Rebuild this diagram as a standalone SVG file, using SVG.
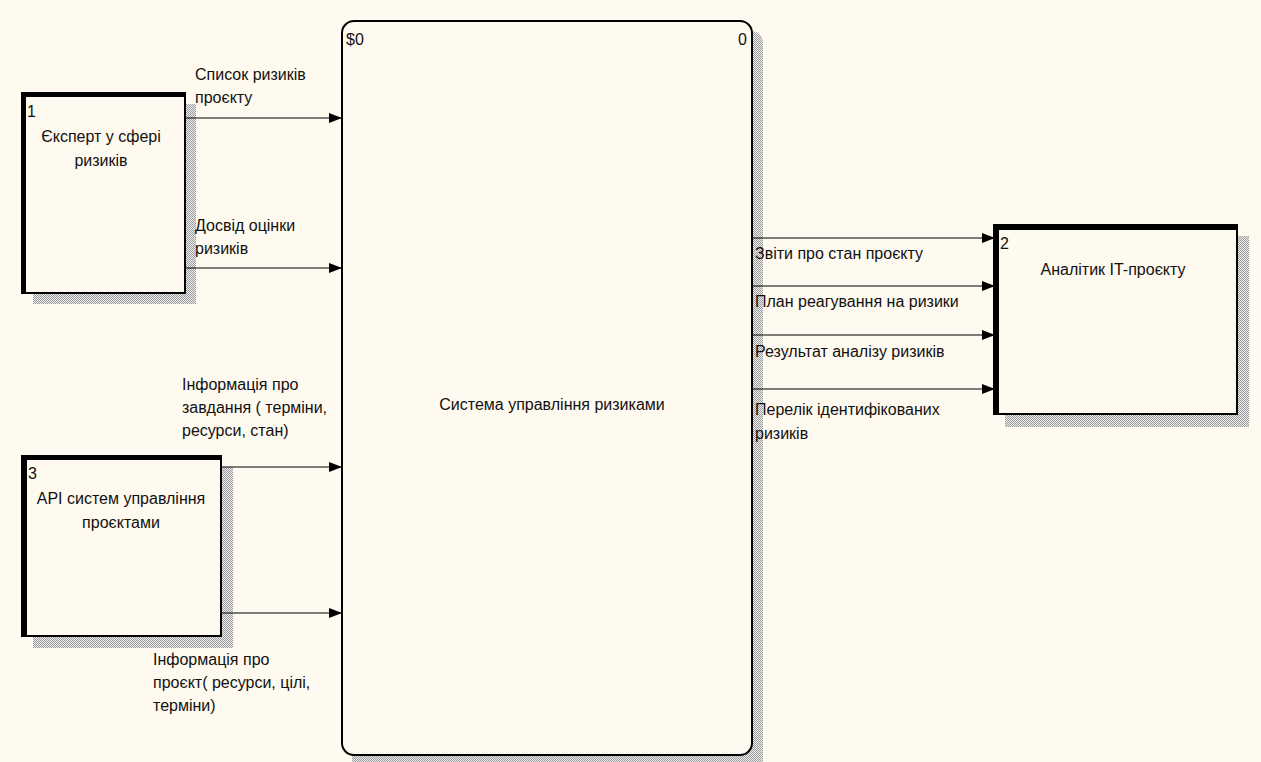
<svg xmlns="http://www.w3.org/2000/svg" width="1261" height="762" viewBox="0 0 1261 762">
<defs>
<pattern id="hatch" width="2" height="2" patternUnits="userSpaceOnUse">
<rect width="2" height="2" fill="#eeeeee"/>
<rect width="1" height="1" fill="#9a9a9a"/>
<rect x="1" y="1" width="1" height="1" fill="#9a9a9a"/>
</pattern>
<marker id="arr" markerWidth="14" markerHeight="10" refX="13" refY="5" orient="auto" markerUnits="userSpaceOnUse">
<path d="M0,0 L13,5 L0,10 Z" fill="#000"/>
</marker>
<style>
text{font-family:"Liberation Sans",Arial,sans-serif;font-size:16px;fill:#111}
.box{fill:#fffaef;stroke:#000;stroke-width:2}
.thick{fill:#000}
.shadow{fill:url(#hatch)}
.conn{stroke:#000;stroke-width:1.2;fill:none;marker-end:url(#arr)}
.c{text-anchor:middle}
</style>
</defs>
<rect width="1261" height="762" fill="#fffaef"/>

<g id="node0">
<rect class="shadow" x="352" y="31" width="411" height="740" rx="12"/>
<rect class="box" x="342" y="21" width="410" height="734" rx="12"/>
<text x="346" y="45">$0</text>
<text x="738" y="45">0</text>
<text class="c" x="552" y="410">Система управління ризиками</text>
</g>

<g id="node1">
<rect class="shadow" x="33" y="104" width="163" height="200"/>
<rect class="box" x="22" y="93" width="163" height="200"/>
<rect class="thick" x="21" y="92" width="5" height="202"/>
<rect class="thick" x="21" y="92" width="165" height="5"/>
<text x="27" y="117">1</text>
<text class="c" x="101" y="142">Єксперт у сфері</text>
<text class="c" x="101" y="166">ризиків</text>
</g>

<g id="node2">
<rect class="shadow" x="1005" y="236" width="244" height="191"/>
<rect class="box" x="994" y="225" width="243" height="189"/>
<rect class="thick" x="993" y="224" width="6" height="191"/>
<rect class="thick" x="993" y="224" width="245" height="6"/>
<text x="1000" y="249">2</text>
<text class="c" x="1113" y="275">Аналітик IT-проєкту</text>
</g>

<g id="node3">
<rect class="shadow" x="33" y="467" width="200" height="181"/>
<rect class="box" x="22" y="456" width="199" height="180"/>
<rect class="thick" x="21" y="455" width="6" height="182"/>
<rect class="thick" x="21" y="455" width="201" height="5"/>
<text x="28" y="479">3</text>
<text class="c" x="121" y="504">API систем управління</text>
<text class="c" x="121" y="528">проєктами</text>
</g>

<g id="connectors">
<line class="conn" x1="186" y1="118" x2="342" y2="118"/>
<line class="conn" x1="186" y1="268" x2="342" y2="268"/>
<line class="conn" x1="222" y1="467" x2="342" y2="467"/>
<line class="conn" x1="222" y1="613" x2="342" y2="613"/>
<line class="conn" x1="752" y1="238" x2="995" y2="238"/>
<line class="conn" x1="752" y1="286" x2="995" y2="286"/>
<line class="conn" x1="752" y1="335" x2="995" y2="335"/>
<line class="conn" x1="752" y1="389" x2="995" y2="389"/>
</g>

<g id="labels">
<text x="195" y="80">Список ризиків</text>
<text x="195" y="103">проєкту</text>
<text x="195" y="231">Досвід оцінки</text>
<text x="195" y="254">ризиків</text>
<text x="182" y="390">Інформація про</text>
<text x="182" y="413">завдання ( терміни,</text>
<text x="182" y="436">ресурси, стан)</text>
<text x="153" y="665">Інформація про</text>
<text x="153" y="688">проєкт( ресурси, цілі,</text>
<text x="153" y="711">терміни)</text>
<text x="755" y="259">Звіти про стан проєкту</text>
<text x="755" y="307">План реагування на ризики</text>
<text x="755" y="357">Результат аналізу ризиків</text>
<text x="755" y="415">Перелік ідентифікованих</text>
<text x="755" y="439">ризиків</text>
</g>
</svg>
